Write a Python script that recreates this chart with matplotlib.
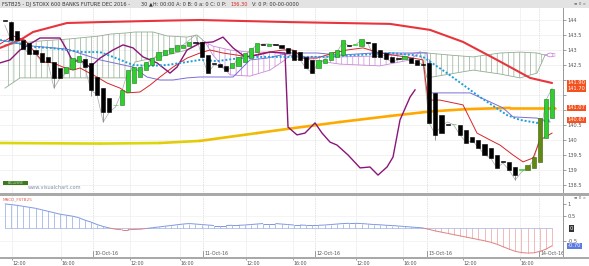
import matplotlib
matplotlib.use('Agg')
import matplotlib.pyplot as plt
import numpy as np
from matplotlib.collections import LineCollection
from matplotlib.patches import Rectangle
import matplotlib.transforms as mtransforms
from matplotlib.ticker import FuncFormatter
from matplotlib import font_manager

plt.rcParams['font.family'] = ['DejaVu Sans']
plt.rcParams['hatch.linewidth'] = 0.5
_names = {f.name for f in font_manager.fontManager.ttflist}
NARROW = 'Liberation Sans Narrow' if 'Liberation Sans Narrow' in _names else 'DejaVu Sans'

# ---------------- DATA ----------------
opens = [143.97, 143.93, 143.63, 143.33, 143.23, 143.00, 142.90, 142.77, 142.60, 142.40,
         142.23, 142.37, 142.60, 142.70, 142.57, 142.10, 141.73, 141.40, 141.15, 141.17,
         141.60, 141.90, 142.10, 142.33, 142.50, 142.67, 142.83, 142.90, 142.97, 143.07,
         143.13, 143.24, 143.27, 142.83, 142.54, 142.53, 142.47, 142.40, 142.47, 142.60,
         142.73, 142.93, 143.20, 143.13, 143.18, 143.17, 143.07, 143.00, 142.93, 142.77,
         142.67, 142.40, 142.57, 142.67, 142.77, 142.83, 143.14, 143.16, 143.13, 143.24,
         143.23, 143.00, 142.90, 142.77, 142.71, 142.70, 142.73, 142.67, 142.51, 142.57,
         141.57, 140.83, 140.51, 140.52, 140.50, 140.33, 140.10, 140.00, 139.87, 139.73,
         139.50, 139.28, 139.27, 139.10, 139.00, 139.00, 139.07, 139.27, 140.07, 140.73]
closes = [143.96, 143.33, 143.33, 143.03, 142.87, 142.87, 142.60, 142.60, 142.07, 142.07,
          142.43, 142.73, 142.80, 142.43, 141.67, 141.50, 140.93, 140.93, 141.17, 141.67,
          142.33, 142.43, 142.43, 142.60, 142.73, 142.93, 143.00, 143.07, 143.17, 143.17,
          143.27, 143.23, 142.77, 142.23, 142.53, 142.43, 142.30, 142.57, 142.77, 142.90,
          143.07, 143.23, 143.15, 143.20, 143.17, 143.07, 142.90, 142.67, 142.67, 142.40,
          142.23, 142.67, 142.70, 142.93, 143.00, 143.33, 143.13, 143.17, 143.37, 143.23,
          142.77, 142.77, 142.70, 142.60, 142.70, 142.80, 142.57, 142.50, 142.50, 140.57,
          140.17, 140.23, 140.50, 140.53, 140.17, 139.90, 139.93, 139.73, 139.50, 139.40,
          139.07, 139.27, 139.00, 138.83, 139.02, 139.17, 139.43, 140.73, 141.37, 141.70]
olive_bars = [85, 86, 87]
wick_bar = [1, 8, 14, 16, 69, 70, 83]
wick_hi = [143.97, 142.60, 142.57, 141.73, 142.70, 141.57, 139.10]
wick_lo = [143.33, 141.73, 141.45, 140.60, 140.57, 140.00, 138.67]

# long moving averages
red_x = [-0.78, 2.47, 4.59, 10.11, 15.48, 26.37, 31.74, 46.37, 62.63, 69.14, 74.5, 80.03, 85.4, 88.98]
red_y = [143.07, 143.33, 143.60, 143.90, 143.93, 143.98, 144.00, 143.93, 143.87, 143.67, 143.27, 142.67, 142.07, 141.90]
yel_x = [-0.78, 15.48, 25.24, 31.74, 41.01, 46.37, 54.5, 62.63, 69.14, 75.15, 82.15, 89.46]
yel_y = [139.90, 139.88, 139.90, 139.97, 140.23, 140.38, 140.60, 140.80, 140.95, 141.03, 141.07, 141.07]

purple_x = [-0.78, 0.85, 2.47, 5.72, 8.98, 10.11, 11.09, 12.23, 13.85, 15.48, 17.59, 19.22, 20.85,
            22.47, 24.75, 26.86, 28.0, 29.63, 31.74, 33.85, 35.48, 37.11, 39.06, 41.01, 43.12,
            45.56, 46.05, 47.51, 48.81, 50.44, 51.58, 52.88, 54.02, 55.81, 57.76, 59.38, 60.68,
            62.15, 63.12, 64.26, 65.89, 66.7]
purple_y = [142.57, 142.67, 143.00, 143.40, 143.40, 143.00, 142.60, 142.67, 142.43, 142.73, 143.00,
            143.17, 143.07, 142.77, 142.57, 142.23, 142.43, 143.00, 143.23, 143.27, 143.43, 143.07,
            142.77, 142.83, 142.93, 142.90, 140.43, 140.17, 140.23, 140.57, 140.23, 139.93, 139.83,
            139.50, 139.07, 139.10, 138.83, 139.10, 139.43, 140.67, 141.43, 141.67]

tenkan_x = [-0.78, 1.33, 3.28, 4.59, 6.21, 7.84, 9.46, 11.09, 12.23, 14.99, 16.62, 18.73, 19.87,
            21.98, 23.61, 25.24, 27.35, 29.63, 31.74, 33.37, 35.48, 37.76, 39.38, 41.98, 45.24,
            46.86, 48.49, 50.76, 53.37, 55.64, 58.24, 59.38, 61.0, 66.37, 68.0, 68.81, 70.76,
            74.5, 76.78, 78.9, 80.52, 82.63, 84.26, 85.89, 87.02, 88.98]
tenkan_y = [143.20, 143.47, 143.33, 143.00, 142.60, 142.57, 142.43, 142.33, 142.40, 142.10, 141.90,
            141.73, 141.57, 141.60, 141.83, 142.10, 142.43, 142.73, 142.90, 143.00, 142.90, 142.83,
            142.77, 142.90, 143.00, 143.00, 142.73, 142.73, 142.90, 143.00, 143.07, 143.00, 142.90,
            142.73, 142.67, 141.33, 141.33, 141.17, 140.23, 140.00, 139.83, 139.50, 139.27, 139.40,
            140.00, 140.23]

cyan_x = [-0.78, 1.33, 4.59, 7.35, 10.11, 12.72, 15.48, 17.59, 20.85, 23.61, 26.37, 29.63, 31.74,
          34.5, 37.11, 41.01, 46.37, 51.74, 57.27, 62.63, 66.37, 68.0, 71.9, 77.27, 81.66, 83.77,
          86.54, 88.65]
cyan_y = [143.33, 143.27, 143.10, 143.07, 143.00, 142.93, 142.93, 142.77, 142.50, 142.47, 142.50,
          142.60, 142.67, 142.63, 142.70, 142.77, 142.77, 142.77, 142.83, 142.90, 142.83, 142.77,
          142.23, 141.43, 140.83, 140.67, 140.57, 140.67]

kijun_x = [-0.78, 4.59, 10.11, 15.48, 20.85, 23.12, 25.24, 27.35, 29.63, 31.74, 37.11, 38.24, 39.87,
           42.63, 46.37, 50.76, 54.5, 59.87, 68.65, 69.14, 75.64, 78.9, 81.01, 82.63, 86.54, 88.65]
kijun_y = [143.33, 143.13, 143.03, 142.67, 142.43, 142.10, 142.00, 142.00, 142.07, 142.10, 142.10,
           142.33, 142.67, 142.73, 142.90, 142.90, 142.83, 142.90, 142.90, 141.57, 141.57, 141.27,
           141.07, 140.77, 140.73, 140.60]

gray_y = [143.83, 143.33, 143.33, 143.07, 142.87, 142.87, 142.60, 142.60, 141.73, 142.07,
          142.23, 142.60, 142.73, 142.43, 141.67, 141.50, 140.60, 140.93, 141.10, 141.60,
          142.27, 142.33, 142.40, 142.57, 142.67, 142.90, 142.93, 143.00, 143.10, 143.17,
          143.33, 143.50, 142.83, 142.23, 142.50, 142.47, 142.30, 142.47, 142.73, 142.83,
          143.00, 143.17, 143.20, 143.20, 143.17, 143.10, 142.93, 142.70, 142.67, 142.40,
          142.23, 142.60, 142.67, 142.87, 142.93, 143.27, 143.13, 143.17, 143.33, 143.23,
          142.80, 142.77, 142.70, 142.60, 142.67, 142.77, 142.60, 142.53, 142.57, 140.57,
          140.17, 140.50, 140.60, 140.50, 140.17, 139.93, 139.97, 139.77, 139.50, 139.40,
          139.07, 139.23, 139.00, 138.67, 138.93, 139.07, 139.33, 140.10, 141.33, 141.73]

# clouds: x, upper span, lower span
cloud1_x = [0.03, 2.47, 5.72, 10.6, 15.48, 17.11, 19.87, 21.17, 24.1, 26.37, 29.63, 31.25, 32.55]
cloud1_a = [143.17, 143.23, 143.30, 143.37, 143.47, 143.53, 143.57, 143.60, 143.60, 143.47, 143.43, 143.50, 143.27]
cloud1_b = [141.73, 142.07, 142.07, 142.07, 142.07, 142.07, 142.07, 142.60, 142.73, 142.83, 143.00, 143.17, 143.27]
cloud2_x = [32.55, 33.85, 36.62, 39.87, 43.12, 45.56, 46.37]
cloud2_a = [143.27, 143.13, 143.00, 142.93, 142.93, 142.87, 142.83]
cloud2_b = [143.27, 142.83, 142.17, 142.13, 142.33, 142.67, 142.83]
cloud3_x = [46.37, 49.63, 54.5, 61.0, 65.89, 67.51]
cloud3_a = [142.83, 142.77, 142.77, 142.80, 142.87, 142.93]
cloud3_b = [142.83, 142.67, 142.53, 142.47, 142.67, 142.93]
cloud4_x = [67.51, 68.65, 72.39, 76.13, 80.52, 83.77, 86.54, 87.84]
cloud4_a = [142.93, 142.90, 142.83, 142.77, 142.90, 142.93, 142.90, 142.83]
cloud4_b = [142.93, 142.07, 142.20, 142.33, 142.20, 142.07, 142.23, 142.83]
cloud5_x = [87.84, 88.65, 89.46]
cloud5_a = [142.83, 142.90, 142.87]
cloud5_b = [142.83, 142.77, 142.80]

macd = [1.00, 0.97, 0.94, 0.90, 0.86, 0.82, 0.76, 0.70, 0.64, 0.58,
        0.54, 0.50, 0.44, 0.34, 0.26, 0.16, 0.08, 0.02, -0.03, -0.05,
        -0.05, -0.04, -0.03, 0.00, 0.03, 0.06, 0.09, 0.12, 0.15, 0.18,
        0.20, 0.18, 0.16, 0.14, 0.12, 0.12, 0.12, 0.13, 0.13, 0.14,
        0.16, 0.18, 0.20, 0.20, 0.20, 0.18, 0.16, 0.14, 0.14, 0.13,
        0.13, 0.13, 0.14, 0.16, 0.18, 0.20, 0.21, 0.21, 0.20, 0.18,
        0.16, 0.15, 0.13, 0.12, 0.10, 0.08, 0.06, 0.04, 0.02, -0.04,
        -0.10, -0.15, -0.20, -0.25, -0.30, -0.35, -0.40, -0.45, -0.50, -0.56,
        -0.64, -0.74, -0.84, -0.93, -0.98, -1.00, -0.99, -0.93, -0.84, -0.70]

price_ticks = [138.5, 139, 139.5, 140, 140.5, 141, 141.5, 142, 142.5, 143, 143.5, 144]
price_tick_lab = ['138.5', '139', '139.5', '140', '140.5', '', '', '', '142.5', '143', '143.5', '144']
macd_ticks = [1, 0.5, -0.5]
time_pos = [1.17, 9.14, 20.36, 28.49, 39.22, 46.86, 57.11, 64.75, 74.5, 83.8]
time_lab = ['12:00', '16:00', '12:00', '16:00', '12:00', '16:00', '12:00', '16:00', '12:00', '16:00']
date_pos = [14.34, 32.28, 50.44, 68.65, 86.86]
date_lab = ['10-Oct-16', '11-Oct-16', '12-Oct-16', '13-Oct-16', '14-Oct-16']
title_main = 'FSTB25 - DJ STOXX 600 BANKS FUTURE DEC 2016 -'
title_mid = '30 \u25b2H: 00:00 A: 0 B: 0 a: 0 C: 0 P:'
title_red = '136.30'
title_end = 'V: 0 P: 00-00-0000'

# ---------------- FIGURE ----------------
W, H = 589, 266
fig = plt.figure(figsize=(W / 100, H / 100), dpi=100)
fig.patch.set_facecolor('white')


def rect(x0, y0, x1, y1):
    return [x0 / W, 1 - y1 / H, (x1 - x0) / W, (y1 - y0) / H]


ax = fig.add_axes(rect(0, 8, 563, 193))
ax2 = fig.add_axes(rect(0, 196, 563, 257))
XMIN, XMAX = -0.78, 90.76
FS = 3.4
TXT = '#555555'

bars = np.arange(len(opens))
o = np.array(opens)
c = np.array(closes)

# grid
for t in time_pos:
    ax.axvline(t, color='#ededed', lw=0.5, zorder=0)
    ax2.axvline(t, color='#ededed', lw=0.5, zorder=0)
for d in date_pos:
    ax.axvline(d, color='#c4c4c4', lw=0.5, ls=(0, (1, 1.5)), zorder=0)
    ax2.axvline(d, color='#c4c4c4', lw=0.5, ls=(0, (1, 1.5)), zorder=0)
for p in price_ticks:
    ax.axhline(p, color='#ededed', lw=0.5, zorder=0)

# clouds
green_c = '#93ad93'
lilac_c = '#c98ad9'
for cx, ca, cb, col in [(cloud1_x, cloud1_a, cloud1_b, green_c),
                        (cloud2_x, cloud2_a, cloud2_b, lilac_c),
                        (cloud3_x, cloud3_a, cloud3_b, lilac_c),
                        (cloud4_x, cloud4_a, cloud4_b, green_c),
                        (cloud5_x, cloud5_a, cloud5_b, lilac_c)]:
    ax.fill_between(cx, ca, cb, facecolor='none', edgecolor=col, hatch='|||', linewidth=0, zorder=1)
    ax.plot(cx, ca, color=col, lw=0.6, zorder=1)
    ax.plot(cx, cb, color=col, lw=0.6, zorder=1)

# yellow -> orange long average
pts = np.column_stack([yel_x, yel_y])
segs = np.stack([pts[:-1], pts[1:]], axis=1)
mid = (np.array(yel_x[:-1]) + np.array(yel_x[1:])) / 2
tt = np.clip((mid - 22) / 30, 0, 1)
c0 = np.array([0.86, 0.84, 0.05])
c1 = np.array([1.0, 0.66, 0.0])
seg_cols = [tuple(c0 * (1 - k) + c1 * k) for k in tt]
ax.add_collection(LineCollection(segs, colors=seg_cols, linewidths=1.9, capstyle='round',
                                 joinstyle='round', zorder=2))

ax.plot(red_x, red_y, color='#e8343c', lw=1.5, zorder=2, solid_capstyle='round')
ax.plot(bars, gray_y, color='#a8a8a8', lw=0.5, zorder=3)
ax.plot(kijun_x, kijun_y, color='#7b6fd6', lw=0.7, zorder=3)
ax.plot(tenkan_x, tenkan_y, color='#d8242a', lw=0.7, zorder=3)
ax.plot(purple_x, purple_y, color='#8a1679', lw=1.0, zorder=3)
ax.plot(cyan_x, cyan_y, color='#1e9ed8', lw=1.4, ls=(0, (1, 1)), zorder=3)

# candles
ax.vlines(wick_bar, wick_lo, wick_hi, color='#888888', lw=0.6, zorder=4)
up = c >= o
body_bottom = np.minimum(o, c)
body_h = np.maximum(np.abs(c - o), 0.025)
face = []
edge = []
for i in bars:
    if i in olive_bars:
        face.append('#5e8a12'); edge.append('#3d5c08')
    elif up[i]:
        face.append('#2fcf2f'); edge.append('#1a7a1a' if abs(c[i] - o[i]) > 0.03 else '#2fcf2f')
    else:
        face.append('#000000'); edge.append('#000000')
ax.bar(bars, body_h, bottom=body_bottom, width=0.68, color=face, edgecolor=edge,
       linewidth=0.4, zorder=5)

ax.set_xlim(XMIN, XMAX)
ax.set_ylim(138.233, 144.4)
ax.set_xticks([])
ax.yaxis.tick_right()
ax.set_yticks(price_ticks)
ax.set_yticklabels(price_tick_lab, fontfamily=NARROW)
ax.tick_params(axis='y', labelsize=FS + 0.3, length=2, width=0.5, colors='#777777', labelcolor=TXT, pad=1.5)
for s in ['top', 'left', 'bottom']:
    ax.spines[s].set_visible(False)
ax.spines['right'].set_color('#888888')
ax.spines['right'].set_linewidth(0.6)

# price boxes on the right axis
tr = mtransforms.blended_transform_factory(ax.transAxes, ax.transData)
for val in [red_y[-1], closes[-1], yel_y[-1], cyan_y[-1]]:
    ax.text(1.008, val, '%.2f' % val, transform=tr, fontsize=FS + 0.3, color='white', ha='left',
            va='center', clip_on=False, zorder=10, fontfamily=NARROW,
            bbox=dict(boxstyle='square,pad=0.12', fc='#f4511e', ec='none'))

# ---------------- lower panel ----------------
m = np.array(macd)
ax2.plot([bars[0], bars[-1]], [0, 0], color='#9db0e3', lw=0.5, zorder=1)
ax2.vlines(bars, 0, m, colors=['#8fa6e6' if v >= 0 else '#eda0a0' for v in m], lw=0.5, zorder=2)
mp = np.column_stack([bars, m])
msegs = np.stack([mp[:-1], mp[1:]], axis=1)
mcols = ['#7f98e0' if (a + b) / 2 >= 0 else '#e08080' for a, b in zip(m[:-1], m[1:])]
ax2.add_collection(LineCollection(msegs, colors=mcols, linewidths=0.7, zorder=3))
for v in [0.5, -0.5]:
    ax2.axhline(v, color='#f0f0f0', lw=0.5, zorder=0)

ax2.set_xlim(XMIN, XMAX)
ax2.set_ylim(-1.16, 1.32)
ax2.yaxis.tick_right()
ax2.set_yticks(macd_ticks)
ax2.set_yticklabels(['%g' % v for v in macd_ticks], fontfamily=NARROW)
ax2.tick_params(axis='y', labelsize=FS + 0.3, length=2, width=0.5, colors='#777777', labelcolor=TXT, pad=1.5)
ax2.set_xticks(time_pos)
ax2.set_xticklabels(time_lab)
ax2.tick_params(axis='x', labelsize=FS, length=2, width=0.5, colors='#777777', labelcolor=TXT, pad=1.2)
for lab in ax2.get_xticklabels():
    lab.set_ha('left')
for s in ['top', 'left', 'bottom']:
    ax2.spines[s].set_visible(False)
ax2.spines['right'].set_color('#888888')
ax2.spines['right'].set_linewidth(0.6)

tr2 = mtransforms.blended_transform_factory(ax2.transAxes, ax2.transData)
ax2.text(1.012, 0, '0', transform=tr2, fontsize=FS + 0.3, color='white', ha='left', va='center',
         clip_on=False, fontfamily=NARROW,
         bbox=dict(boxstyle='square,pad=0.15', fc='#333333', ec='none'))
ax2.text(1.008, macd[-1], '%.2f' % macd[-1], transform=tr2, fontsize=FS + 0.3, color='white', ha='left',
         va='center', clip_on=False, fontfamily=NARROW,
         bbox=dict(boxstyle='square,pad=0.12', fc='#5b7be0', ec='none'))

trd = mtransforms.blended_transform_factory(ax2.transData, ax2.transAxes)
for d, lab in zip(date_pos, date_lab):
    ax2.plot([d, d], [0.0, 0.1], transform=trd, color='#777777', lw=0.5)
    ax2.text(d + 0.25, 0.02, lab, transform=trd, fontsize=FS, color=TXT, ha='left', va='bottom',
             clip_on=True)
ax2.text(0.004, 0.985, 'MACD_FSTB25', transform=ax2.transAxes, fontsize=3.0, color='#e0604e',
         ha='left', va='top')

# ---------------- frame decorations ----------------
fig.add_artist(Rectangle((0, 1 - 8 / H), 1, 8 / H, transform=fig.transFigure, fc='#e3e3e3', ec='none', zorder=0))
fig.add_artist(Rectangle((0, 1 - 195.5 / H), 1, 2.5 / H, transform=fig.transFigure, fc='#a9a9a9', ec='none'))
fig.add_artist(Rectangle((0, 1 - 258.5 / H), 1, 1.5 / H, transform=fig.transFigure, fc='#a9a9a9', ec='none'))
ty = 1 - 4.2 / H
TFS = 3.6
t1 = fig.text(2 / W, ty, title_main, fontsize=TFS, color='#333333', va='center', ha='left', fontfamily=NARROW)
t2 = ax.annotate(title_mid, xy=(1, 0.5), xycoords=t1, xytext=(8, 0), textcoords='offset points',
                 fontsize=TFS, color='#333333', va='center', ha='left', fontfamily=NARROW,
                 annotation_clip=False)
t3 = ax.annotate(title_red, xy=(1, 0.5), xycoords=t2, xytext=(3, 0), textcoords='offset points',
                 fontsize=TFS, color='#e02020', va='center', ha='left', fontfamily=NARROW,
                 annotation_clip=False)
ax.annotate(title_end, xy=(1, 0.5), xycoords=t3, xytext=(3, 0), textcoords='offset points',
            fontsize=TFS, color='#333333', va='center', ha='left', fontfamily=NARROW,
            annotation_clip=False)
fig.text(574 / W, 1 - 4 / H, '\u2261 0 \u00d7', fontsize=3.0, color='#666666', va='center', ha='left')
fig.text(574 / W, 1 - 198 / H, '\u2261 0 \u00d7', fontsize=3.0, color='#666666', va='center', ha='left')

fig.add_artist(Rectangle((3 / W, 1 - 185 / H), 25 / W, 4.5 / H, transform=fig.transFigure,
                         fc='#3d7a1f', ec='none'))
fig.text(15.5 / W, 1 - 182.8 / H, 'EXCLUSIVE', fontsize=2.2, color='#c8e6b8', va='center', ha='center')
fig.text(28 / W, 1 - 187.5 / H, 'www.visualchart.com', fontsize=3.6, color='#8090a8', va='center', ha='left')

fig.savefig('out.png', dpi=100)
